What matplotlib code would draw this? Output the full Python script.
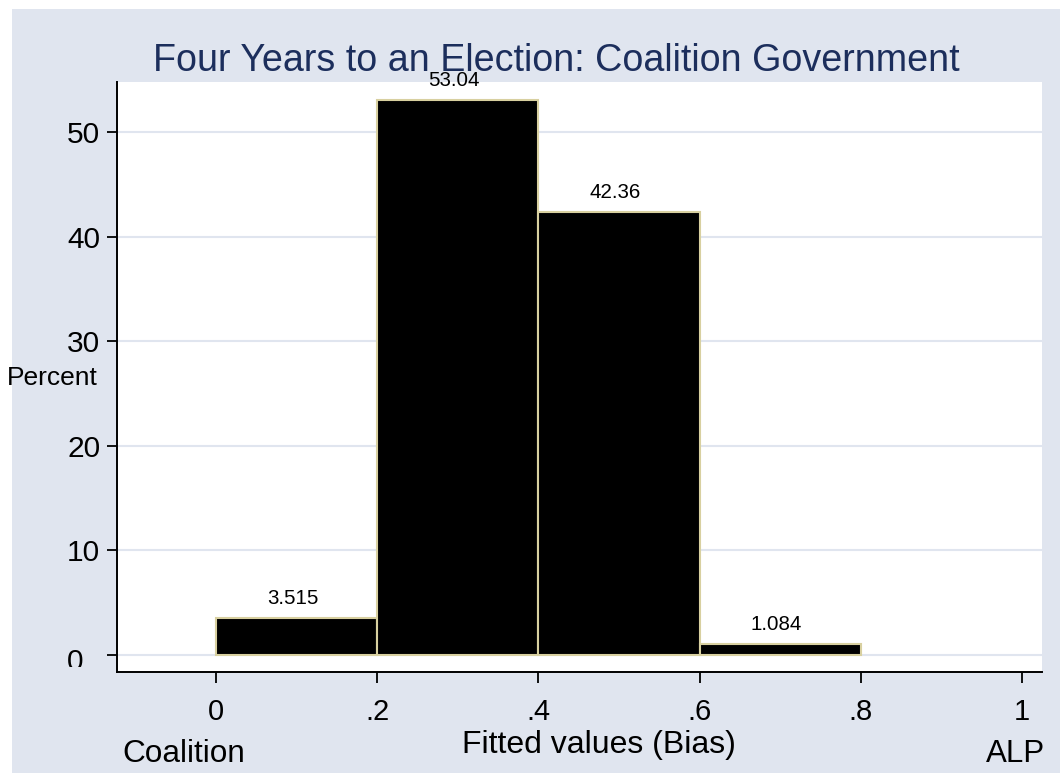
import matplotlib
matplotlib.use("Agg")
import matplotlib.pyplot as plt
from matplotlib.patches import Rectangle
from matplotlib.transforms import Bbox, TransformedBbox

# Data
bin_starts = [0.0, 0.2, 0.4, 0.6]
bin_width = 0.2
percents = [3.515, 53.04, 42.36, 1.084]
bar_labels = ["3.515", "53.04", "42.36", "1.084"]
x_ticks = [0, 0.2, 0.4, 0.6, 0.8, 1.0]
x_ticklabels = ["0", ".2", ".4", ".6", ".8", "1"]
y_ticks = [0, 10, 20, 30, 40, 50]
y_ticklabels = ["0", "10", "20", "30", "40", "50"]

title = "Four Years to an Election: Coalition Government"
xlabel = "Fitted values (Bias)"
ylabel = "Percent"
left_note = "Coalition"
right_note = "ALP"

plt.rcParams['font.family'] = ['Liberation Sans', 'DejaVu Sans']

W, H = 1060, 773
fig = plt.figure(figsize=(W / 100, H / 100), dpi=100, facecolor="white")

bg = "#E0E5EF"
fig.patches.append(Rectangle((12 / W, 0), 1 - 12 / W, 1 - 9 / H,
                             transform=fig.transFigure, facecolor=bg,
                             edgecolor="none", zorder=-10))

ax = fig.add_axes([117 / W, (H - 672) / H, (1042 - 117) / W, (672 - 82) / H])
ax.set_zorder(1)
ax.set_facecolor("white")
ax.set_xlim(-0.123, 1.025)
ax.set_ylim(-1.63, 54.78)

ax.bar(bin_starts, percents, width=bin_width, align="edge", color="black",
       edgecolor="#D8D0A0", linewidth=1.5, zorder=2)

for x0, v, lab in zip(bin_starts, percents, bar_labels):
    ax.annotate(lab, (x0 + bin_width / 2, v), xytext=(-4, 14),
                textcoords="offset pixels", ha="center", va="baseline",
                fontsize=14.8, color="black", zorder=3)

ax.set_yticks(y_ticks)
# first label ("0") is drawn separately below, shifted and clipped as in the reference
ax.set_yticklabels([""] + y_ticklabels[1:])
ax.set_xticks(x_ticks)
ax.set_xticklabels(x_ticklabels)
ax.grid(axis="y", color=bg, linewidth=1.5)
ax.set_axisbelow(True)

for s in ["top", "right"]:
    ax.spines[s].set_visible(False)
for s in ["left", "bottom"]:
    ax.spines[s].set_linewidth(1.4)
    ax.spines[s].set_color("black")

ax.tick_params(axis="y", direction="out", length=7, width=1.3, pad=5,
               labelsize=21.5, colors="black")
ax.tick_params(axis="x", direction="out", length=8, width=1.3, pad=11,
               labelsize=21, colors="black")

zero_txt = fig.text(83 / W, (H - 662) / H, y_ticklabels[0], ha="right",
                    va="center", fontsize=21.5, zorder=5)
clipbox = TransformedBbox(Bbox([[0, (H - 667) / H], [1, 1]]), fig.transFigure)
zero_txt.set_clip_on(True)
zero_txt.set_clip_box(clipbox)

fig.text(556 / W, (H - 71) / H, title, ha="center", va="baseline",
         fontsize=27.1, color="#1C2E5C", zorder=5)
fig.text(7 / W, (H - 378) / H, ylabel, ha="left", va="center", fontsize=19, zorder=5)
fig.text(122 / W, (H - 762) / H, left_note, ha="left", va="baseline", fontsize=22.7, zorder=5)
fig.text(599 / W, (H - 753) / H, xlabel, ha="center", va="baseline", fontsize=23, zorder=5)
fig.text(1045 / W, (H - 762) / H, right_note, ha="right", va="baseline", fontsize=22.5, zorder=5)

fig.savefig("out.png", dpi=100, facecolor="white")
